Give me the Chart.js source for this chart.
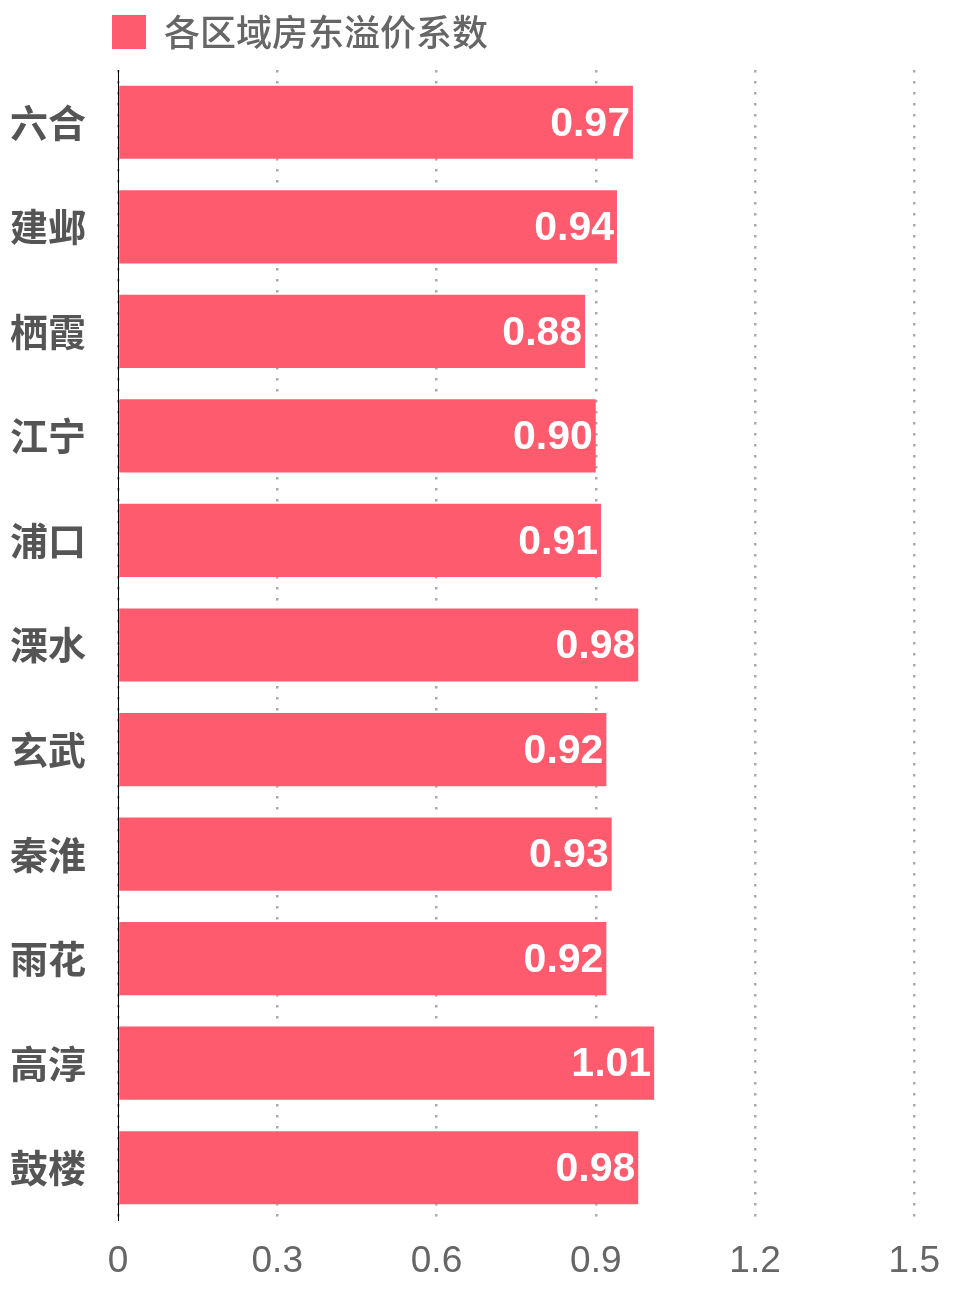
<!DOCTYPE html>
<html>
<head>
<meta charset="utf-8">
<title>各区域房东溢价系数</title>
<script src="https://cdn.jsdelivr.net/npm/chart.js@4/dist/chart.umd.min.js"></script>
<style>
  html, body { margin: 0; padding: 0; background: #fff; }
  #wrap { width: 960px; height: 1290px; position: relative; }
</style>
</head>
<body>
<div id="wrap"><canvas id="chart"></canvas></div>
<script>
// District names and their landlord premium coefficients
const districts = ['六合', '建邺', '栖霞', '江宁', '浦口', '溧水', '玄武', '秦淮', '雨花', '高淳', '鼓楼'];
const premium = [0.97, 0.94, 0.88, 0.90, 0.91, 0.98, 0.92, 0.93, 0.92, 1.01, 0.98];
const seriesName = '各区域房东溢价系数';
const axisMin = 0;
const axisMax = 1.5;
const axisStep = 0.3;

const BAR_COLOR = '#ff5b6e';
const NUM_FONT = '"Liberation Sans", Arial, "Noto Sans CJK SC", sans-serif';
const CJK_FONT = '"Noto Sans CJK SC", "Liberation Sans", sans-serif';

// White value text at the inner end of each bar
const valueLabels = {
  id: 'valueLabels',
  afterDatasetsDraw(chart) {
    const ctx = chart.ctx;
    chart.data.datasets.forEach((ds, di) => {
      const meta = chart.getDatasetMeta(di);
      meta.data.forEach((bar, i) => {
        ctx.save();
        ctx.fillStyle = '#ffffff';
        ctx.font = 'bold 41px ' + NUM_FONT;
        ctx.textAlign = 'right';
        ctx.textBaseline = 'middle';
        ctx.fillText(Number(ds.data[i]).toFixed(2), bar.x - 3, bar.y + 2);
        ctx.restore();
      });
    });
  }
};

// Legend row: extra gap below it, and a slight nudge to the left of the plot edge
const legendPlacement = {
  id: 'legendPlacement',
  afterInit(chart) {
    const legend = chart.legend;
    if (!legend) return;
    const fit = legend.fit;
    legend.fit = function () {
      fit.call(this);
      this.height += 10;
    };
  },
  afterLayout(chart) {
    const legend = chart.legend;
    if (!legend) return;
    legend.left -= 6;
    legend.right -= 6;
  }
};

new Chart(document.getElementById('chart'), {
  type: 'bar',
  data: {
    labels: districts,
    datasets: [{
      label: seriesName,
      data: premium,
      backgroundColor: BAR_COLOR,
      borderWidth: 0,
      barPercentage: 0.7,
      categoryPercentage: 1.0
    }]
  },
  options: {
    indexAxis: 'y',
    responsive: true,
    maintainAspectRatio: false,
    animation: false,
    layout: { padding: { top: 14, left: 10, right: 45, bottom: 2 } },
    plugins: {
      tooltip: { enabled: false },
      legend: {
        display: true,
        position: 'top',
        align: 'start',
        fullSize: false,
        labels: {
          boxWidth: 34,
          boxHeight: 34,
          padding: 0,
          color: '#666',
          font: { size: 36, weight: '500', family: CJK_FONT }
        }
      }
    },
    scales: {
      x: {
        min: axisMin,
        max: axisMax,
        afterFit: (scale) => { scale.height = 68; },
        ticks: {
          stepSize: axisStep,
          color: '#666',
          padding: 20,
          font: { size: 37, family: NUM_FONT },
          callback: (v) => String(+Number(v).toFixed(1))
        },
        grid: {
          color: '#aaaaaa',
          lineWidth: 2.5,
          drawTicks: false
        },
        border: { display: false, dash: [2.5, 8.5] }
      },
      y: {
        afterFit: (scale) => { scale.width = 108; },
        ticks: {
          color: '#555',
          padding: 32,
          font: { size: 38, weight: 'bold', family: CJK_FONT }
        },
        grid: { display: false, drawTicks: false },
        border: { display: true, color: '#000', width: 1 }
      }
    }
  },
  plugins: [valueLabels, legendPlacement]
});
</script>
</body>
</html>
